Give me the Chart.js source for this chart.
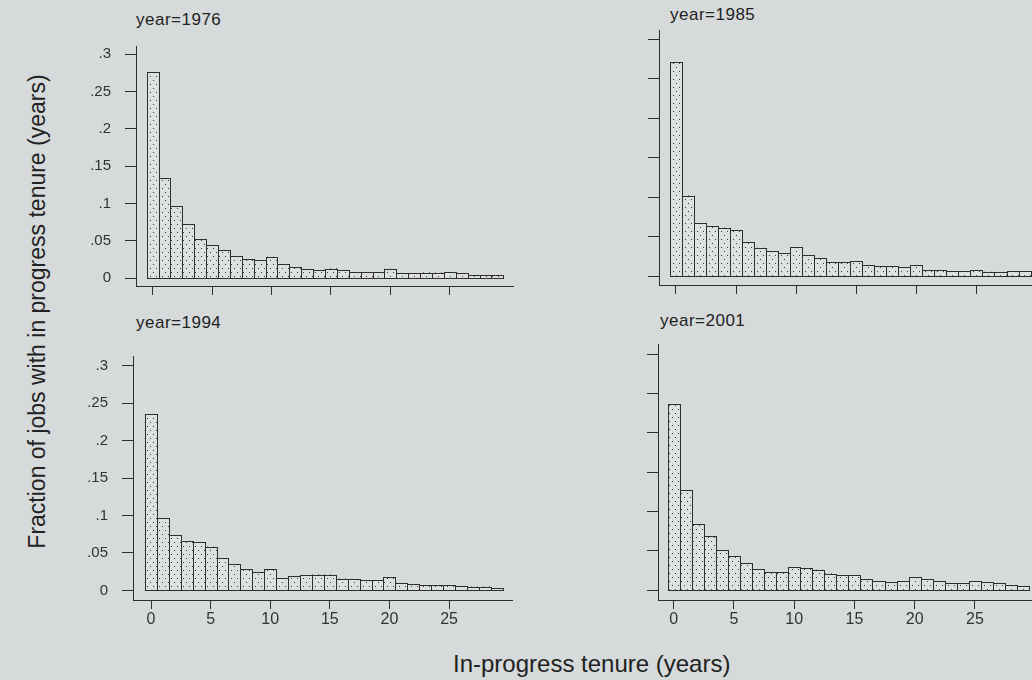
<!DOCTYPE html>
<html>
<head>
<meta charset="utf-8">
<title>In-progress tenure by year</title>
<script src="https://cdn.jsdelivr.net/npm/chart.js@4.4.1/dist/chart.umd.min.js"></script>
<style>
  html, body { margin: 0; padding: 0; }
  body {
    width: 1032px; height: 680px; position: relative; overflow: hidden;
    background: #d6dada; color: #222;
    font-family: 'Liberation Sans', Arial, Helvetica, sans-serif;
  }
  .titulo-painel {
    position: absolute; font-size: 17px; line-height: 1;
    letter-spacing: 0.5px; white-space: nowrap;
  }
  #titulo-y {
    position: absolute; width: 600px; left: -263px; top: 299.5px;
    font-size: 23px; line-height: 23px; text-align: center; white-space: nowrap;
    transform: rotate(-90deg);
  }
  #titulo-x {
    position: absolute; left: 453px; top: 652px;
    font-size: 24px; line-height: 1; white-space: nowrap;
  }
</style>
</head>
<body>

<div class="titulo-painel" style="left:136px; top:10.5px">year=1976</div>
<div class="titulo-painel" style="left:670px; top:6px">year=1985</div>
<div class="titulo-painel" style="left:136px; top:314px">year=1994</div>
<div class="titulo-painel" style="left:660px; top:312px">year=2001</div>
<div id="titulo-y">Fraction of jobs with in progress tenure (years)</div>
<div id="titulo-x">In-progress tenure (years)</div>

<script>
// Tenure bins (years) and the fraction of jobs in each bin
const tenure = [0, 1, 2, 3, 4, 5, 6, 7, 8, 9, 10, 11, 12, 13, 14, 15, 16, 17, 18, 19, 20, 21, 22, 23, 24, 25, 26, 27, 28, 29];

const fraction1976 = [0.2765, 0.1344, 0.0964, 0.0725, 0.0525, 0.0440, 0.0376, 0.0297, 0.0254, 0.0243,
                      0.0284, 0.0194, 0.0149, 0.0115, 0.0102, 0.0128, 0.0102, 0.0077, 0.0077, 0.0077,
                      0.0120, 0.0062, 0.0062, 0.0073, 0.0071, 0.0085, 0.0062, 0.0045, 0.0045, 0.0043];
const fraction1985 = [0.2713, 0.1018, 0.0668, 0.0634, 0.0612, 0.0577, 0.0431, 0.0355, 0.0316, 0.0295,
                      0.0366, 0.0268, 0.0230, 0.0178, 0.0178, 0.0190, 0.0142, 0.0131, 0.0131, 0.0118,
                      0.0142, 0.0078, 0.0072, 0.0064, 0.0064, 0.0076, 0.0050, 0.0048, 0.0059, 0.0059];
const fraction1994 = [0.2355, 0.0966, 0.0735, 0.0666, 0.0650, 0.0580, 0.0427, 0.0350, 0.0290, 0.0240,
                      0.0282, 0.0167, 0.0188, 0.0200, 0.0210, 0.0210, 0.0154, 0.0150, 0.0141, 0.0141,
                      0.0184, 0.0098, 0.0081, 0.0077, 0.0077, 0.0077, 0.0055, 0.0047, 0.0050, 0.0038];
const fraction2001 = [0.2372, 0.1270, 0.0838, 0.0685, 0.0506, 0.0430, 0.0340, 0.0264, 0.0226, 0.0226,
                      0.0290, 0.0277, 0.0255, 0.0209, 0.0187, 0.0187, 0.0145, 0.0110, 0.0098, 0.0110,
                      0.0162, 0.0136, 0.0110, 0.0085, 0.0085, 0.0110, 0.0098, 0.0085, 0.0068, 0.0047];

const yTickValues = [0, 0.05, 0.1, 0.15, 0.2, 0.25, 0.3];
const xTickValues = [0, 5, 10, 15, 20, 25];

// Layout of the four panels (plot area: left, top, right, bottom in page px)
const AXIS_W = 80;
const AXIS_H = 32;
const PAD_TOP = 12;
const FONT = "'Liberation Sans', Arial, Helvetica, sans-serif";
const INK = '#2e2e2e';

const paineis = [
  { dados: fraction1976, area: [136, 35, 513, 286], x: [-1.40, 30.31], y: [-0.0106, 0.3108], rotX: false, rotY: true,  padRight: 6 },
  { dados: fraction1985, area: [659, 30, 1032, 285], x: [-1.41, 29.62], y: [-0.0114, 0.3118], rotX: false, rotY: false, padRight: 0 },
  { dados: fraction1994, area: [133, 345, 512, 600], x: [-1.51, 30.28], y: [-0.0128, 0.3129], rotX: true,  rotY: true,  padRight: 6 },
  { dados: fraction2001, area: [658, 344, 1032, 600], x: [-1.30, 29.74], y: [-0.0127, 0.3131], rotX: true,  rotY: false, padRight: 0 }
];

// Dotted fill like the printed histogram
function criarPadrao() {
  const c = document.createElement('canvas');
  c.width = 6;
  c.height = 8;
  const g = c.getContext('2d');
  g.fillStyle = '#dde0e0';
  g.fillRect(0, 0, 6, 8);
  g.fillStyle = '#3c3c3c';
  g.fillRect(1, 1, 1, 1);
  g.fillRect(4, 5, 1, 1);
  return g.createPattern(c, 'repeat');
}

// Thin outline around each bar, shared edges drawn once
const contorno = {
  id: 'contorno',
  afterDatasetsDraw(chart) {
    const ctx = chart.ctx;
    const meta = chart.getDatasetMeta(0);
    ctx.save();
    ctx.strokeStyle = INK;
    ctx.lineWidth = 1;
    meta.data.forEach(bar => {
      const p = bar.getProps(['x', 'y', 'base', 'width'], true);
      const x1 = Math.round(p.x - p.width / 2);
      const x2 = Math.round(p.x + p.width / 2);
      const y1 = Math.round(p.y);
      const y2 = Math.round(p.base);
      ctx.strokeRect(x1 + 0.5, y1 + 0.5, x2 - x1, y2 - y1);
    });
    ctx.restore();
  }
};

function rotuloY(v) {
  if (v === 0) return '0';
  return String(v).replace(/^0/, '');
}

const padrao = criarPadrao();

paineis.forEach(p => {
  const [L, T, R, B] = p.area;
  const left = L - AXIS_W;
  const top = T - PAD_TOP;
  const width = R + p.padRight - left;
  const height = B + AXIS_H - top;

  const canvas = document.createElement('canvas');
  canvas.width = width;
  canvas.height = height;
  canvas.style.cssText = `position:absolute;left:${left}px;top:${top}px;width:${width}px;height:${height}px`;
  document.body.appendChild(canvas);

  new Chart(canvas, {
    type: 'bar',
    data: {
      datasets: [{
        data: tenure.map((t, i) => ({ x: t, y: p.dados[i] })),
        backgroundColor: padrao,
        borderWidth: 0,
        barPercentage: 1,
        categoryPercentage: 1
      }]
    },
    options: {
      responsive: false,
      animation: false,
      layout: { padding: { top: PAD_TOP, right: p.padRight, left: 0, bottom: 0 } },
      plugins: { legend: { display: false }, tooltip: { enabled: false } },
      scales: {
        x: {
          type: 'linear',
          min: p.x[0],
          max: p.x[1],
          offset: false,
          grid: { display: true, drawOnChartArea: false, drawTicks: true, tickLength: 9, color: INK, offset: false },
          border: { display: true, color: INK, width: 1 },
          ticks: { display: p.rotX, color: '#333', padding: 1, maxRotation: 0, autoSkip: false, font: { family: FONT, size: 16 } },
          afterBuildTicks: s => { s.ticks = xTickValues.map(v => ({ value: v })); },
          afterFit: s => { s.height = AXIS_H; }
        },
        y: {
          type: 'linear',
          min: p.y[0],
          max: p.y[1],
          grid: { display: true, drawOnChartArea: false, drawTicks: true, tickLength: 11, color: INK },
          border: { display: true, color: INK, width: 1 },
          ticks: { display: p.rotY, color: '#333', padding: 14, callback: rotuloY, font: { family: FONT, size: 15 } },
          afterBuildTicks: s => { s.ticks = yTickValues.map(v => ({ value: v })); },
          afterFit: s => { s.width = AXIS_W; }
        }
      }
    },
    plugins: [contorno]
  });
});
</script>
</body>
</html>
